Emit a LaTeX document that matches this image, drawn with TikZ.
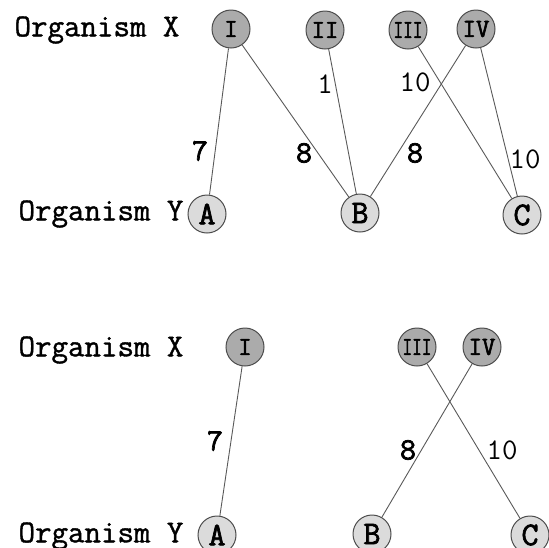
\documentclass[tikz,border=0pt]{standalone}
\usepackage{fontspec}
\newfontfamily\mono{Latin Modern Mono}
\newfontfamily\monob{Latin Modern Mono}[FakeBold=2.2]
\newfontfamily\monom{Latin Modern Mono}[FakeBold=1.2]
\begin{document}
\begin{tikzpicture}[x=1pt,y=-1pt,
  xnode/.style={circle,draw=black!70,line width=1pt,fill=black!33,minimum size=38pt,inner sep=0pt,font=\monob\fontsize{26}{26}\selectfont},
  ynode/.style={circle,draw=black!70,line width=1pt,fill=black!14,minimum size=38pt,inner sep=0pt,font=\monob\fontsize{33}{33}\selectfont},
  rowlab/.style={font=\monom\fontsize{32}{32}\selectfont,inner sep=0pt},
  elab/.style={font=\monob\fontsize{31}{31}\selectfont,inner sep=0pt},
  elabl/.style={font=\mono\fontsize{30}{30}\selectfont,inner sep=0pt},
  edge/.style={draw=black!65,line width=0.9pt}]
\useasboundingbox (0,0) rectangle (549,547);
% top
\node[rowlab] (ox1) at (97,30) {Organism X};
\node[rowlab] (oy1) at (101,214) {Organism Y};
\node[xnode] (i1) at (231,29) {I};
\node[xnode] (ii1) at (325,30) {II};
\node[xnode] (iii1) at (408,30) {\scalebox{0.72}[1]{III}};
\node[xnode] (iv1) at (476,29) {IV};
\node[ynode] (a1) at (207,214) {A};
\node[ynode] (b1) at (360,213) {B};
\node[ynode] (c1) at (522,215) {C};
\draw[edge] (i1) -- (a1);
\draw[edge] (i1) -- (b1);
\draw[edge] (ii1) -- (b1);
\draw[edge] (iv1) -- (b1);
\draw[edge] (iii1) -- (c1);
\draw[edge] (iv1) -- (c1);
\node[elab] (l7a) at (200,151) {7};
\node[elab] (l8a) at (304,153) {8};
\node[elabl] (l1) at (325,84) {1};
\node[elabl] (l10a) at (415,82) {10};
\node[elab] (l8b) at (415,153) {8};
\node[elabl] (l10b) at (525,159) {10};
% bottom
\node[rowlab] (ox2) at (101,350) {Organism X};
\node[rowlab] (oy2) at (101,536) {Organism Y};
\node[xnode] (i2) at (245,347) {I};
\node[xnode] (iii2) at (417,347) {\scalebox{0.72}[1]{III}};
\node[xnode] (iv2) at (482,347) {IV};
\node[ynode] (a2) at (217,535) {A};
\node[ynode] (b2) at (372,534) {B};
\node[ynode] (c2) at (530,535) {C};
\draw[edge] (i2) -- (a2);
\draw[edge] (iv2) -- (b2);
\draw[edge] (iii2) -- (c2);
\node[elab] (l7b) at (215,441) {7};
\node[elab] (l8c) at (408,450) {8};
\node[elabl] (l10c) at (502,450) {10};
\end{tikzpicture}
\end{document}
